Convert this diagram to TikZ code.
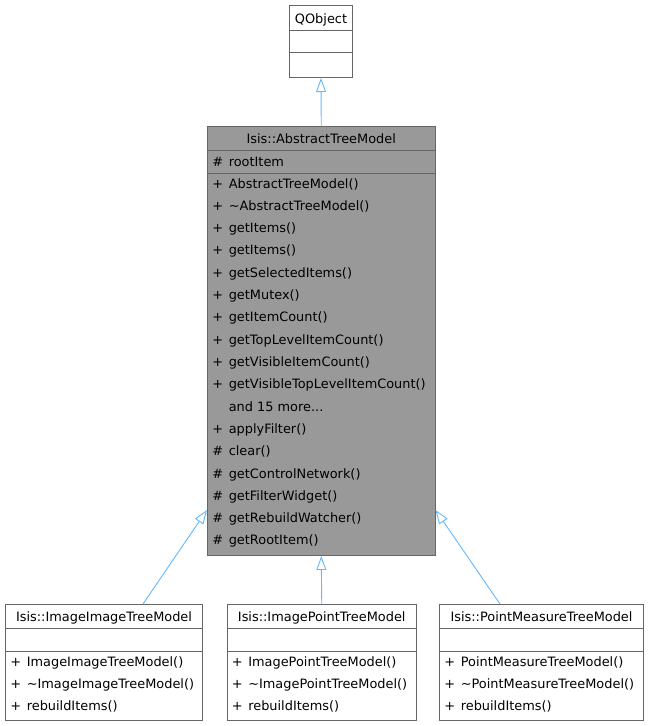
\documentclass[tikz,border=0pt]{standalone}
\usepackage{fontspec}
\setmainfont{DejaVu Sans}
\usepackage{xcolor}
\usepackage{tikz}
\usetikzlibrary{positioning, arrows.meta}
\definecolor{edgeblue}{HTML}{63B8FF}
\definecolor{boxgray}{HTML}{999999}
\definecolor{linegray}{HTML}{666666}
\tikzset{
  classbox/.style={draw=linegray, fill=white, line width=1pt, inner sep=0pt},
  divider/.style={draw=linegray, line width=1pt},
  title/.style={anchor=base, inner sep=0pt, font=\fontsize{12.9}{15}\selectfont},
  vis/.style={anchor=base west, inner sep=0pt, font=\fontsize{12.9}{15}\selectfont},
  member/.style={anchor=base west, inner sep=0pt, font=\fontsize{12.9}{15}\selectfont},
  inherit/.style={draw=edgeblue, line width=0.9pt, -{Triangle[open, length=14pt, width=10pt]}}
}

\begin{document}
\begin{tikzpicture}[x=1pt, y=-1pt]
\useasboundingbox (0,0) rectangle (649,726);
% base class
\node[classbox, minimum width=63pt, minimum height=72pt, anchor=north west] (qobject) at (289,5) {};
\node[title] (qobject-name) at (qobject.north |- 0,23) {QObject};
\draw[divider] (qobject.west |- 0,30) -- (qobject.east |- 0,30);
\draw[divider] (qobject.west |- 0,52) -- (qobject.east |- 0,52);

% abstract model
\node[classbox, fill=boxgray, minimum width=227.5pt, minimum height=429pt, anchor=north west] (atm) at (207,126) {};
\node[title] (atm-name) at (atm.north |- 0,143) {Isis::AbstractTreeModel};
\draw[divider] (atm.west |- 0,150) -- (atm.east |- 0,150);
\draw[divider] (atm.west |- 0,173) -- (atm.east |- 0,173);
\node[vis] (atm-a1) at (212.2,166) {\#};
\node[member] (atm-b1) at (228.6,166) {rootItem};
\foreach \v/\t [count=\i] in {+/AbstractTreeModel(), +/\textasciitilde AbstractTreeModel(),
    +/getItems(), +/getItems(), +/getSelectedItems(), +/getMutex(), +/getItemCount(),
    +/getTopLevelItemCount(), +/getVisibleItemCount(), +/getVisibleTopLevelItemCount(),
    {}/{and 15 more...}, +/applyFilter(), \#/clear(), \#/getControlNetwork(),
    \#/getFilterWidget(), \#/getRebuildWatcher(), \#/getRootItem()} {
  \node[vis] (atm-v\i) at (212.2,{188+(\i-1)*22.31}) {\v};
  \node[member] (atm-m\i) at (228.6,{188+(\i-1)*22.31}) {\t};
}

% derived models
\foreach \id/\cls/\lx/\bw in {imgimg/ImageImageTreeModel/5/197, imgpt/ImagePointTreeModel/226.5/189.5,
    ptmeas/PointMeasureTreeModel/439/204} {
  \node[classbox, minimum width=\bw pt, minimum height=116pt, anchor=north west] (\id) at (\lx,604) {};
  \node[title] (\id-name) at (\id.north |- 0,621) {Isis::\cls};
  \draw[divider] (\id.west |- 0,628) -- (\id.east |- 0,628);
  \draw[divider] (\id.west |- 0,651) -- (\id.east |- 0,651);
  \foreach \v/\t [count=\i] in {+/\cls(), +/\textasciitilde\cls(), +/rebuildItems()} {
    \node[vis] (\id-v\i) at ({\lx+5.2},{644.7+22*\i}) {\v};
    \node[member] (\id-m\i) at ({\lx+21.6},{644.7+22*\i}) {\t};
  }
}

% inheritance
\coordinate (imgimg-tail) at (143,604);
\coordinate (ptmeas-tail) at (500,604);
\coordinate (atm-lefthead) at (atm.west |- 0,510);
\coordinate (atm-righthead) at (atm.east |- 0,510);
\draw[inherit] (atm.north) -- (qobject.south);
\draw[inherit] (imgimg-tail) -- (atm-lefthead);
\draw[inherit] (imgpt.north) -- (atm.south);
\draw[inherit] (ptmeas-tail) -- (atm-righthead);
\end{tikzpicture}
\end{document}
